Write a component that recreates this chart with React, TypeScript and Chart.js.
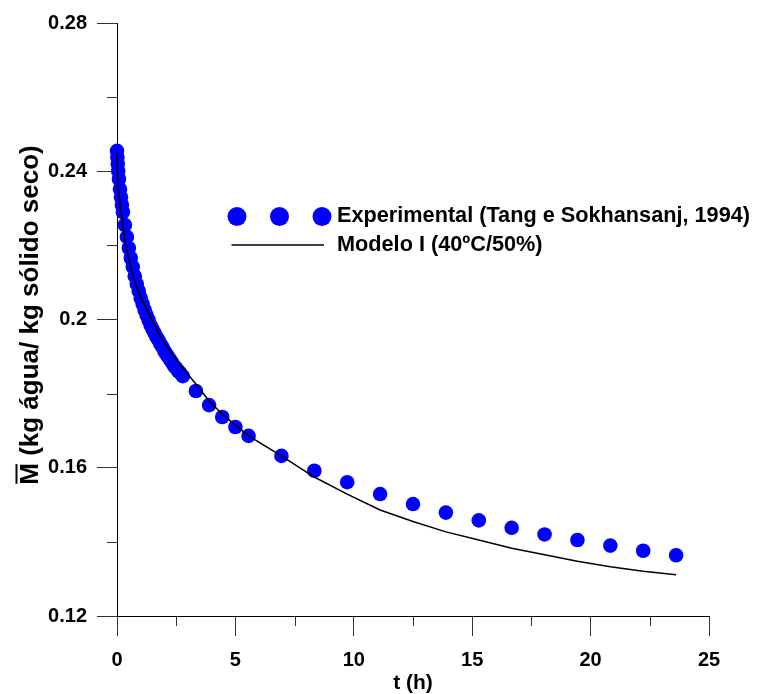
import { useEffect, useRef } from 'react';
import { Chart, registerables } from 'chart.js';

Chart.register(...registerables);

// Experimental drying data: time (h) and mean moisture content (kg water / kg dry solid)
const expTimes = [
  0, 0.017, 0.033, 0.05, 0.083, 0.125, 0.167, 0.208, 0.25, 0.333, 0.417, 0.5,
  0.583, 0.667, 0.75, 0.833, 0.917, 1.0, 1.083, 1.167, 1.25, 1.333, 1.417, 1.5,
  1.583, 1.667, 1.75, 1.833, 1.917, 2.0, 2.083, 2.167, 2.25, 2.333, 2.417, 2.5,
  2.583, 2.667, 2.778, 3.333, 3.889, 4.444, 5.0, 5.556, 6.944, 8.333, 9.722,
  11.111, 12.5, 13.889, 15.278, 16.667, 18.056, 19.444, 20.833, 22.222, 23.611,
];
const expMoisture = [
  0.2455, 0.2438, 0.242, 0.2401, 0.2379, 0.2352, 0.233, 0.2309, 0.229, 0.2255, 0.2223, 0.2193,
  0.2166, 0.2142, 0.2117, 0.2096, 0.2077, 0.2058, 0.2042, 0.2026, 0.2012, 0.1999, 0.1985, 0.1974,
  0.1964, 0.1953, 0.1945, 0.1934, 0.1926, 0.1915, 0.1907, 0.1899, 0.1891, 0.1883, 0.1874, 0.1869,
  0.1861, 0.1856, 0.1847, 0.1807, 0.1769, 0.1737, 0.171, 0.1686, 0.1632, 0.1592, 0.1561,
  0.1529, 0.1502, 0.1479, 0.1458, 0.1438, 0.142, 0.1405, 0.139, 0.1376, 0.1364,
];

// Model I simulation (40ºC / 50%)
const modelTimes = [
  0, 0.05, 0.1, 0.2, 0.33, 0.5, 0.67, 0.83, 1.0, 1.17, 1.33, 1.5, 1.67, 1.83, 2.0,
  2.22, 2.5, 2.78, 3.33, 3.89, 4.44, 5.0, 5.56, 6.94, 8.33, 9.72, 11.11, 12.5,
  13.89, 15.28, 16.67, 18.06, 19.44, 20.83, 22.22, 23.61,
];
const modelMoisture = [
  0.2452, 0.2363, 0.2325, 0.2277, 0.2214, 0.2161, 0.212, 0.2088, 0.2061, 0.2039, 0.2018, 0.1996,
  0.1974, 0.1955, 0.1937, 0.1918, 0.1891, 0.1869, 0.1826, 0.178, 0.1745, 0.1715, 0.1686, 0.1632,
  0.1575, 0.1529, 0.1486, 0.1455, 0.1427, 0.1405, 0.1383, 0.1365, 0.1348, 0.1333, 0.1321, 0.1311,
];

const xTickValues = [0, 5, 10, 15, 20, 25];
const xTickLabels = ['0', '5', '10', '15', '20', '25'];
const xMinorTicks = [2.5, 7.5, 12.5, 17.5, 22.5];
const yTickValues = [0.12, 0.16, 0.2, 0.24, 0.28];
const yTickLabels = ['0.12', '0.16', '0.2', '0.24', '0.28'];
const yMinorTicks = [0.14, 0.18, 0.22, 0.26];

const xTitle = 't (h)';
const yTitleSymbol = 'M';
const yTitleUnits = ' (kg água/ kg sólido seco)';
const legendLabels = ['Experimental (Tang e Sokhansanj, 1994)', 'Modelo I (40ºC/50%)'];

const FONT_FAMILY = '"Liberation Sans", Arial, Helvetica, sans-serif';
const BLUE = '#0000ff';

const decorations = {
  id: 'decorations',
  afterDraw(chart: any) {
    const { ctx, chartArea } = chart;
    const xs = chart.scales.x;
    const ys = chart.scales.y;
    ctx.save();

    // minor ticks
    ctx.strokeStyle = '#333';
    ctx.lineWidth = 1;
    ctx.beginPath();
    xMinorTicks.forEach((v) => {
      const px = Math.round(xs.getPixelForValue(v)) + 0.5;
      ctx.moveTo(px, chartArea.bottom);
      ctx.lineTo(px, chartArea.bottom + 10);
    });
    yMinorTicks.forEach((v) => {
      const py = Math.round(ys.getPixelForValue(v)) + 0.5;
      ctx.moveTo(chartArea.left - 10, py);
      ctx.lineTo(chartArea.left, py);
    });
    ctx.stroke();

    // vertical axis title with overlined symbol
    ctx.save();
    ctx.translate(31, 315);
    ctx.rotate(-Math.PI / 2);
    ctx.font = `bold 26px ${FONT_FAMILY}`;
    ctx.fillStyle = '#000';
    ctx.textBaseline = 'middle';
    ctx.textAlign = 'left';
    const full = yTitleSymbol + yTitleUnits;
    const total = ctx.measureText(full).width;
    const mW = ctx.measureText(yTitleSymbol).width;
    const x0 = -total / 2;
    ctx.fillText(full, x0, 0);
    ctx.fillRect(x0 + 1, -15.5, mW - 2, 2);
    ctx.restore();

    // legend
    ctx.fillStyle = BLUE;
    [237, 279.5, 322].forEach((cx) => {
      ctx.beginPath();
      ctx.arc(cx, 216.5, 9.5, 0, Math.PI * 2);
      ctx.fill();
    });
    ctx.strokeStyle = '#000';
    ctx.lineWidth = 1.5;
    ctx.beginPath();
    ctx.moveTo(231.5, 245);
    ctx.lineTo(324, 245);
    ctx.stroke();
    ctx.fillStyle = '#000';
    ctx.font = `bold 21.7px ${FONT_FAMILY}`;
    ctx.textAlign = 'left';
    ctx.textBaseline = 'middle';
    ctx.fillText(legendLabels[0], 337, 216.5);
    ctx.fillText(legendLabels[1], 337, 245.5);

    ctx.restore();
  },
};

export default function App() {
  const canvasRef = useRef<HTMLCanvasElement | null>(null);

  useEffect(() => {
    const canvas = canvasRef.current;
    if (!canvas) return;

    const chart = new Chart(canvas, {
      type: 'scatter',
      data: {
        datasets: [
          {
            label: legendLabels[1],
            data: modelTimes.map((t, i) => ({ x: t, y: modelMoisture[i] })),
            showLine: true,
            borderColor: '#000',
            borderWidth: 1.5,
            pointRadius: 0,
            tension: 0,
            clip: false,
            order: 0,
          } as any,
          {
            label: legendLabels[0],
            data: expTimes.map((t, i) => ({ x: t, y: expMoisture[i] })),
            showLine: false,
            pointRadius: 7.3,
            pointBackgroundColor: BLUE,
            pointBorderWidth: 0,
            pointBorderColor: BLUE,
            clip: false,
            order: 1,
          } as any,
        ],
      },
      options: {
        animation: false,
        responsive: false,
        events: [],
        layout: { padding: { left: 0, top: 23, right: 48, bottom: 0 } },
        plugins: { legend: { display: false }, tooltip: { enabled: false } },
        scales: {
          x: {
            type: 'linear',
            min: 0,
            max: 25,
            afterBuildTicks: (s: any) => {
              s.ticks = xTickValues.map((v) => ({ value: v }));
            },
            afterFit: (s: any) => {
              s.height = 78;
            },
            ticks: {
              autoSkip: false,
              maxRotation: 0,
              padding: 12,
              color: '#000',
              font: { family: FONT_FAMILY, size: 20, weight: 'bold' },
              callback: (v: any) => xTickLabels[xTickValues.indexOf(Number(v))] ?? '',
            },
            grid: { drawOnChartArea: false, tickLength: 20, tickColor: '#333', tickWidth: 1 },
            border: { color: '#000', width: 1 },
            title: {
              display: true,
              text: xTitle,
              color: '#000',
              font: { family: FONT_FAMILY, size: 21, weight: 'bold', lineHeight: 1 },
              padding: { top: 0, bottom: 0 },
            },
          },
          y: {
            type: 'linear',
            min: 0.12,
            max: 0.28,
            afterBuildTicks: (s: any) => {
              s.ticks = yTickValues.map((v) => ({ value: v }));
            },
            afterFit: (s: any) => {
              s.width = 117;
            },
            ticks: {
              autoSkip: false,
              padding: 10,
              color: '#000',
              font: { family: FONT_FAMILY, size: 20, weight: 'bold' },
              callback: (v: any) => {
                const i = yTickValues.findIndex((t) => Math.abs(t - Number(v)) < 1e-9);
                return i >= 0 ? yTickLabels[i] : '';
              },
            },
            grid: { drawOnChartArea: false, tickLength: 20, tickColor: '#333', tickWidth: 1 },
            border: { color: '#000', width: 1 },
          },
        },
      } as any,
      plugins: [decorations],
    });

    return () => chart.destroy();
  }, []);

  return (
    <div style={{ position: 'absolute', left: 0, top: 0, width: 757, height: 694, background: '#fff' }}>
      <canvas ref={canvasRef} width={757} height={694} style={{ display: 'block' }} />
    </div>
  );
}
